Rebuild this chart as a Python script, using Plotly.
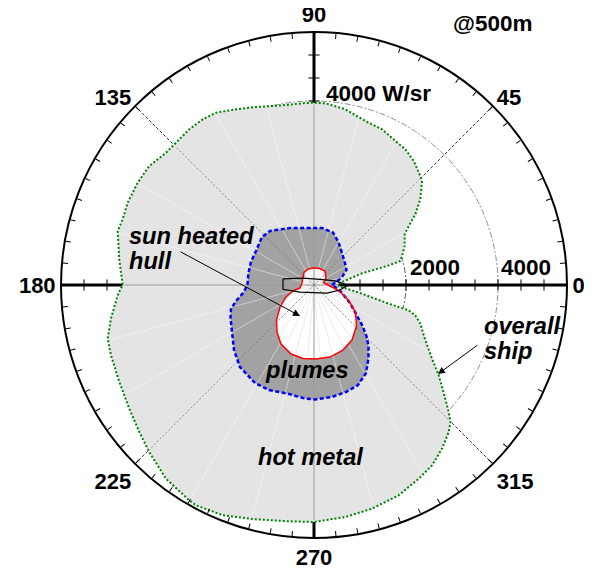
import numpy as np
import plotly.graph_objects as go

RMAX = 5500  # W/sr, outer ring

# ---- overall ship signature (W/sr) vs aspect angle (deg) ----
ship_theta = [3.5, 13.7, 14.6, 15.5, 18.2, 23.3, 29.2, 30.9, 34.9, 38.9,
              43.9, 45.7, 51.2, 56.1, 60.5, 66.4, 72.6, 79.9, 86.4, 90.6,
              93.6, 99.9, 108.0, 113.9, 119.6, 123.9, 128.7, 134.1, 138.2, 144.2,
              149.9, 156.2, 161.0, 164.6, 172.5, 179.9, 183.0, 189.4, 194.6, 199.1,
              206.5, 213.8, 220.1, 225.4, 232.6, 239.9, 241.8, 248.4, 256.1, 264.0,
              270.0, 277.7, 284.5, 291.9, 298.4, 303.2, 308.0, 312.5, 314.9, 316.7,
              319.1, 324.1, 328.0, 333.6, 340.0, 343.3, 345.0, 345.9, 349.7, 357.7]
ship_r = [537, 1074, 1639, 1948, 2015, 2146, 2259, 2357, 2685, 2968,
          3259, 3311, 3459, 3557, 3596, 3694, 3735, 3881, 3959, 3963,
          3959, 3965, 4070, 4178, 4309, 4339, 4337, 4309, 4315, 4418,
          4431, 4428, 4398, 4426, 4270, 4159, 4274, 4474, 4635, 4670,
          4728, 4833, 4963, 5100, 5300, 5409, 5433, 5385, 5248, 5165,
          5152, 5089, 5024, 4928, 4787, 4685, 4518, 4335, 4202, 4024,
          3776, 3348, 3024, 2702, 2459, 2298, 2131, 1674, 1061, 537]

# ---- plumes ----
plume_theta = [0, 8.7, 15.9, 24.8, 35.4, 48.8, 60.3, 70.1, 82.0, 92.0,
               112.8, 129.2, 137.3, 149.6, 159.9, 169.6, 179.1, 185.7, 191.6, 196.1,
               201.6, 209.8, 219.1, 227.9, 239.0, 246.8, 257.1, 265.5, 270.5, 279.1,
               286.6, 293.7, 300.6, 306.7, 311.8, 315.8, 320.2, 325.4, 333.4, 345.5, 354.6]
plume_r = [391, 507, 633, 778, 826, 924, 1076, 1213, 1252, 1239,
           1344, 1515, 1539, 1461, 1459, 1448, 1446, 1528, 1731, 1878,
           1952, 2054, 2241, 2402, 2487, 2483, 2431, 2476, 2489, 2465,
           2428, 2376, 2222, 1981, 1778, 1591, 1359, 1109, 874, 607, 459]

# ---- sun heated hull ----
hull_theta = [356.4, 13.6, 30.3, 51.8, 71.1, 90, 109.4, 127.6, 144, 170.5,
              192, 196, 203.2, 212.9, 223, 231.8, 240.8, 251.6, 261.5, 271.5,
              282.5, 294, 304.6, 316, 326.9, 335.4, 344.5, 350.5]
hull_r = [349, 212, 302, 385, 380, 375, 370, 350, 296, 265,
          311, 474, 663, 880, 1115, 1300, 1470, 1581, 1615, 1609,
          1604, 1548, 1454, 1285, 1076, 837, 609, 463]

# ---- ship silhouette ----
boat_theta = [169, 188, 207, 328, 349, 0, 11, 43, 148, 169]
boat_r = [687, 681, 340, 332, 576, 739, 465, 177, 283, 687]

angle_ticks = list(range(0, 360, 5))
angle_labels = [str(a) if a % 45 == 0 else "" for a in angle_ticks]
radial_ticks = list(range(500, 5500, 500))

FONT = "Liberation Sans, Arial, sans-serif"


def closed(a):
    return list(a) + [a[0]]


def r_at(th, thetas, rs):
    return float(np.interp(th, thetas, rs, period=360))


def P(r, th):
    t = np.radians(th)
    return 0.5 + 0.5 * r / RMAX * np.cos(t), 0.5 + 0.5 * r / RMAX * np.sin(t)


fig = go.Figure()


def line(r, th, color, width=1, dash="solid"):
    fig.add_trace(go.Scatterpolar(r=r, theta=th, mode="lines",
                                  line=dict(color=color, width=width, dash=dash),
                                  hoverinfo="skip", showlegend=False))


# under-layer: diagonal grid, grid circles, thick axes and their ticks
for a in [45, 135, 225, 315]:
    line([0, RMAX], [a, a], "#333333", 1, "3px,2px")
circ = np.linspace(0, 360, 721)
line([2000] * len(circ), circ, "#444444", 1, "6px,2px,2px,2px")
line([4000] * len(circ), circ, "#8a8a8a", 1, "6px,2px,2px,2px")
line([RMAX, 0, RMAX], [0, 0, 180], "black", 3)
line([RMAX, 0, RMAX], [90, 90, 270], "black", 3)
for angs, sym in [([0, 180], "line-ns"), ([90, 270], "line-ew")]:
    rr, tt = [], []
    for a in angs:
        rr += radial_ticks
        tt += [a] * len(radial_ticks)
    fig.add_trace(go.Scatterpolar(r=rr, theta=tt, mode="markers",
                                  marker=dict(symbol=sym, size=8,
                                              line=dict(color="black", width=1)),
                                  hoverinfo="skip", showlegend=False))

# fills
fig.add_trace(go.Scatterpolar(r=closed(ship_r), theta=closed(ship_theta), mode="lines",
                              fill="toself", fillcolor="#e4e4e4", line=dict(width=0),
                              hoverinfo="skip", showlegend=False))
fig.add_trace(go.Scatterpolar(r=closed(plume_r), theta=closed(plume_theta), mode="lines",
                              fill="toself", fillcolor="#a2a2a2", line=dict(width=0),
                              hoverinfo="skip", showlegend=False))

# faint spokes inside the filled area
for a in range(15, 360, 15):
    if a % 45 == 0:
        continue
    line([0, 0.985 * r_at(a, ship_theta, ship_r)], [a, a], "rgba(255,255,255,0.45)", 1)

fig.add_trace(go.Scatterpolar(r=closed(hull_r), theta=closed(hull_theta), mode="lines",
                              fill="toself", fillcolor="white", line=dict(width=0),
                              hoverinfo="skip", showlegend=False))
for a in range(5, 360, 10):
    line([0, 0.97 * r_at(a, hull_theta, hull_r)], [a, a], "#e6e6e6", 0.8)

# axes / diagonals seen through the fill
line([0.99 * r_at(180, ship_theta, ship_r), 0, 0.99 * r_at(0, ship_theta, ship_r)],
     [180, 180, 0], "#9a9a9a", 1)
line([0.99 * r_at(90, ship_theta, ship_r), 0, 0.99 * r_at(270, ship_theta, ship_r)],
     [90, 90, 270], "#9a9a9a", 1)
for a in [45, 135, 225, 315]:
    line([0, 0.985 * r_at(a, ship_theta, ship_r)], [a, a], "rgba(110,110,110,0.7)", 1, "2px,2px")

# outlines
line(closed(ship_r), closed(ship_theta), "#008000", 2, "2px,2px")
line(closed(plume_r), closed(plume_theta), "#0000ff", 2.5, "4px,2.5px")
line(closed(hull_r), closed(hull_theta), "#ff0000", 1.5)
line(boat_r, boat_theta, "black", 1.2)

bold = dict(family=FONT, size=22.5, color="black", weight="bold")
tickf = dict(family=FONT, size=22, color="black", weight="bold")
ital = dict(family=FONT, size=23.6, color="black", weight="bold", style="italic")

anns = []


def text(t, r, th, font, xanchor="center", xshift=0, yshift=0):
    x, y = P(r, th)
    anns.append(dict(text=t, x=x, y=y, xref="paper", yref="paper", showarrow=False,
                     xanchor=xanchor, yanchor="middle", xshift=xshift, yshift=yshift,
                     font=font))


text("4000 W/sr", 4000, 90, bold, "left", 10, 8)
text("2000", 2000, 0, bold, "left", 2, 18)
text("4000", 4000, 0, bold, "left", 1, 18)
text("sun heated", 4181, 165.2, ital, "left", -1)
text("hull", 4076, 172.7, ital, "left", -1)
text("overall", 3765, 346.0, ital, "left", 0, 1)
text("ship", 3909, 339.1, ital, "left", 0, -2)
text("plumes", 1860, 265.6, ital)
text("hot metal", 3746, 268.7, ital)
anns.append(dict(text="@500m", x=0.853, y=1.016, xref="paper", yref="paper",
                 showarrow=False, xanchor="center", yanchor="middle", font=bold))

for (r, th, ax, ay) in [(739, 245.7, -121, -65), (3318, 324.3, 41, -30)]:
    x, y = P(r, th)
    anns.append(dict(text="", x=x, y=y, xref="paper", yref="paper", showarrow=True,
                     ax=ax, ay=ay, arrowhead=2, arrowsize=1.4, arrowwidth=1,
                     arrowcolor="black"))

# the page body adds an 8px offset, so the figure is 8px smaller and margins shifted
fig.update_layout(
    width=584, height=563,
    margin=dict(l=53, r=25, t=24, b=33),
    paper_bgcolor="white", plot_bgcolor="white",
    showlegend=False,
    annotations=anns,
    polar=dict(
        domain=dict(x=[0, 1], y=[0, 1]),
        bgcolor="white",
        radialaxis=dict(range=[0, RMAX], showline=False, showticklabels=False,
                        ticks="", showgrid=False),
        angularaxis=dict(rotation=0, direction="counterclockwise",
                         tickmode="array", tickvals=angle_ticks, ticktext=angle_labels,
                         ticks="inside", ticklen=5, tickwidth=1, tickcolor="black",
                         showline=True, linecolor="black", linewidth=2,
                         showgrid=False, tickfont=tickf),
    ),
)

fig.write_html("out.html")
